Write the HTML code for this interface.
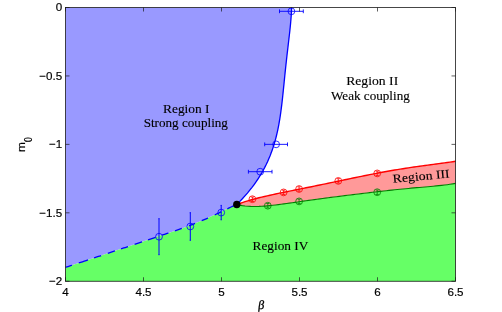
<!DOCTYPE html>
<html><head><meta charset="utf-8"><style>
html,body{margin:0;padding:0;background:#fff;overflow:hidden;}
svg{display:block;position:absolute;left:0;top:0;z-index:5;will-change:transform;}
text{font-family:"Liberation Sans",sans-serif;font-size:11.6px;fill:#000;stroke:#000;stroke-width:0.18px;}
.s{font-family:"Liberation Serif",serif;font-size:12px;fill:#000;stroke:#000;stroke-width:0.12px;}
</style></head><body>
<svg width="502" height="312" viewBox="0 0 502 312">
<rect width="502" height="312" fill="#fff"/>
<polygon points="65.50,7.50 291.59,7.50 291.50,10.36 291.36,13.21 291.18,16.07 290.97,18.92 290.73,21.78 290.47,24.63 290.18,27.49 289.88,30.34 289.57,33.20 289.24,36.05 288.91,38.91 288.58,41.76 288.24,44.62 287.91,47.47 287.57,50.33 287.24,53.18 286.92,56.04 286.59,58.89 286.28,61.75 285.96,64.60 285.66,67.46 285.36,70.31 285.06,73.17 284.77,76.02 284.48,78.88 284.19,81.73 283.91,84.59 283.62,87.44 283.33,90.30 283.04,93.15 282.74,96.01 282.43,98.86 282.11,101.72 281.77,104.57 281.42,107.43 281.05,110.28 280.66,113.14 280.25,115.99 279.81,118.85 279.33,121.70 278.82,124.56 278.28,127.41 277.69,130.27 277.06,133.12 276.38,135.98 275.65,138.83 274.87,141.69 274.03,144.54 273.12,147.40 272.15,150.25 271.11,153.11 270.00,155.96 268.81,158.82 267.55,161.67 266.20,164.53 264.76,167.38 263.23,170.24 261.62,173.09 259.90,175.95 258.08,178.80 256.17,181.66 254.14,184.51 252.01,187.37 249.77,190.22 247.42,193.08 244.94,195.93 242.35,198.79 239.64,201.64 236.80,204.50 236.80,204.50 232.41,206.40 228.02,208.44 223.62,210.60 219.23,212.79 214.84,214.86 210.45,216.87 206.05,218.83 201.66,220.73 197.27,222.56 192.88,224.33 188.48,226.03 184.09,227.66 179.70,229.21 175.31,230.72 170.92,232.20 166.52,233.66 162.13,235.11 157.74,236.57 153.35,238.06 148.95,239.55 144.56,241.03 140.17,242.51 135.78,243.99 131.38,245.46 126.99,246.93 122.60,248.39 118.21,249.86 113.82,251.33 109.42,252.79 105.03,254.26 100.64,255.72 96.25,257.19 91.85,258.65 87.46,260.11 83.07,261.57 78.68,263.03 74.28,264.49 69.89,265.95 65.50,267.40" fill="#9999ff"/>
<polygon points="65.50,267.40 69.89,265.95 74.28,264.49 78.68,263.03 83.07,261.57 87.46,260.11 91.85,258.65 96.25,257.19 100.64,255.72 105.03,254.26 109.42,252.79 113.82,251.33 118.21,249.86 122.60,248.39 126.99,246.93 131.38,245.46 135.78,243.99 140.17,242.51 144.56,241.03 148.95,239.55 153.35,238.06 157.74,236.57 162.13,235.11 166.52,233.66 170.92,232.20 175.31,230.72 179.70,229.21 184.09,227.66 188.48,226.03 192.88,224.33 197.27,222.56 201.66,220.73 206.05,218.83 210.45,216.87 214.84,214.86 219.23,212.79 223.62,210.60 228.02,208.44 232.41,206.40 236.80,204.50 236.80,204.50 239.57,205.14 242.34,205.64 245.11,206.01 247.87,206.27 250.64,206.42 253.41,206.49 256.18,206.48 258.95,206.41 261.72,206.27 264.48,206.08 267.25,205.85 270.02,205.59 272.79,205.29 275.56,204.97 278.33,204.63 281.09,204.27 283.86,203.90 286.63,203.52 289.40,203.13 292.17,202.74 294.94,202.34 297.70,201.95 300.47,201.55 303.24,201.16 306.01,200.77 308.78,200.38 311.55,200.00 314.31,199.62 317.08,199.24 319.85,198.87 322.62,198.50 325.39,198.14 328.16,197.77 330.92,197.42 333.69,197.06 336.46,196.71 339.23,196.36 342.00,196.01 344.77,195.66 347.53,195.32 350.30,194.98 353.07,194.63 355.84,194.29 358.61,193.96 361.38,193.62 364.14,193.29 366.91,192.95 369.68,192.62 372.45,192.30 375.22,191.97 377.99,191.65 380.75,191.33 383.52,191.02 386.29,190.71 389.06,190.40 391.83,190.11 394.60,189.81 397.36,189.52 400.13,189.24 402.90,188.97 405.67,188.70 408.44,188.43 411.21,188.17 413.97,187.92 416.74,187.67 419.51,187.43 422.28,187.18 425.05,186.94 427.82,186.69 430.58,186.44 433.35,186.19 436.12,185.92 438.89,185.64 441.66,185.35 444.43,185.03 447.19,184.68 449.96,184.30 452.73,183.87 455.50,183.40 455.50,281.25 65.50,281.25" fill="#66ff66"/>
<polygon points="236.80,204.50 239.57,203.50 242.34,202.56 245.11,201.67 247.87,200.82 250.64,200.01 253.41,199.24 256.18,198.51 258.95,197.80 261.72,197.12 264.48,196.46 267.25,195.82 270.02,195.20 272.79,194.59 275.56,193.99 278.33,193.41 281.09,192.84 283.86,192.27 286.63,191.70 289.40,191.14 292.17,190.59 294.94,190.03 297.70,189.48 300.47,188.92 303.24,188.37 306.01,187.81 308.78,187.25 311.55,186.69 314.31,186.12 317.08,185.56 319.85,184.99 322.62,184.41 325.39,183.84 328.16,183.26 330.92,182.68 333.69,182.10 336.46,181.52 339.23,180.94 342.00,180.36 344.77,179.77 347.53,179.19 350.30,178.61 353.07,178.03 355.84,177.46 358.61,176.89 361.38,176.32 364.14,175.76 366.91,175.20 369.68,174.65 372.45,174.10 375.22,173.57 377.99,173.04 380.75,172.52 383.52,172.00 386.29,171.50 389.06,171.01 391.83,170.53 394.60,170.05 397.36,169.59 400.13,169.14 402.90,168.69 405.67,168.26 408.44,167.84 411.21,167.42 413.97,167.02 416.74,166.62 419.51,166.24 422.28,165.85 425.05,165.48 427.82,165.11 430.58,164.74 433.35,164.38 436.12,164.01 438.89,163.65 441.66,163.28 444.43,162.90 447.19,162.52 449.96,162.13 452.73,161.72 455.50,161.30 455.50,183.40 452.73,183.87 449.96,184.30 447.19,184.68 444.43,185.03 441.66,185.35 438.89,185.64 436.12,185.92 433.35,186.19 430.58,186.44 427.82,186.69 425.05,186.94 422.28,187.18 419.51,187.43 416.74,187.67 413.97,187.92 411.21,188.17 408.44,188.43 405.67,188.70 402.90,188.97 400.13,189.24 397.36,189.52 394.60,189.81 391.83,190.11 389.06,190.40 386.29,190.71 383.52,191.02 380.75,191.33 377.99,191.65 375.22,191.97 372.45,192.30 369.68,192.62 366.91,192.95 364.14,193.29 361.38,193.62 358.61,193.96 355.84,194.29 353.07,194.63 350.30,194.98 347.53,195.32 344.77,195.66 342.00,196.01 339.23,196.36 336.46,196.71 333.69,197.06 330.92,197.42 328.16,197.77 325.39,198.14 322.62,198.50 319.85,198.87 317.08,199.24 314.31,199.62 311.55,200.00 308.78,200.38 306.01,200.77 303.24,201.16 300.47,201.55 297.70,201.95 294.94,202.34 292.17,202.74 289.40,203.13 286.63,203.52 283.86,203.90 281.09,204.27 278.33,204.63 275.56,204.97 272.79,205.29 270.02,205.59 267.25,205.85 264.48,206.08 261.72,206.27 258.95,206.41 256.18,206.48 253.41,206.49 250.64,206.42 247.87,206.27 245.11,206.01 242.34,205.64 239.57,205.14 236.80,204.50" fill="#ff9999"/>
<polyline points="65.50,267.40 66.80,266.97 68.10,266.54 69.40,266.11 70.70,265.68 72.00,265.25" fill="none" stroke="#0000ff" stroke-width="1.3"/><polyline points="78.80,262.99 80.64,262.38 82.48,261.77 84.32,261.16 86.16,260.55 88.00,259.93" fill="none" stroke="#0000ff" stroke-width="1.3"/><polyline points="94.10,257.90 95.52,257.43 96.94,256.96 98.36,256.48 99.78,256.01 101.20,255.54" fill="none" stroke="#0000ff" stroke-width="1.3"/><polyline points="107.80,253.33 109.22,252.86 110.64,252.39 112.06,251.91 113.48,251.44 114.90,250.96" fill="none" stroke="#0000ff" stroke-width="1.3"/><polyline points="121.05,248.91 122.44,248.45 123.83,247.98 125.22,247.52 126.61,247.05 128.00,246.59" fill="none" stroke="#0000ff" stroke-width="1.3"/><polyline points="134.60,244.38 136.08,243.89 137.56,243.39 139.04,242.89 140.52,242.39 142.00,241.90" fill="none" stroke="#0000ff" stroke-width="1.3"/><polyline points="148.00,239.87 149.54,239.35 151.08,238.83 152.62,238.31 154.16,237.79 155.70,237.26" fill="none" stroke="#0000ff" stroke-width="1.3"/><polyline points="162.10,235.12 163.36,234.70 164.62,234.29 165.88,233.87 167.14,233.45 168.40,233.04" fill="none" stroke="#0000ff" stroke-width="1.3"/><polyline points="175.00,230.83 176.36,230.37 177.72,229.90 179.08,229.43 180.44,228.96 181.80,228.48" fill="none" stroke="#0000ff" stroke-width="1.3"/><polyline points="189.00,225.84 190.22,225.37 191.44,224.90 192.66,224.42 193.88,223.93 195.10,223.44" fill="none" stroke="#0000ff" stroke-width="1.3"/><polyline points="201.70,220.71 202.96,220.17 204.22,219.63 205.48,219.08 206.74,218.53 208.00,217.97" fill="none" stroke="#0000ff" stroke-width="1.3"/><polyline points="214.80,214.88 216.08,214.28 217.36,213.68 218.64,213.07 219.92,212.46 221.20,211.85" fill="none" stroke="#0000ff" stroke-width="1.3"/><polyline points="227.30,208.79 229.20,207.88 231.10,207.00 233.00,206.14 234.90,205.30 236.80,204.50" fill="none" stroke="#0000ff" stroke-width="1.3"/>
<polyline points="291.59,7.50 291.50,10.36 291.36,13.21 291.18,16.07 290.97,18.92 290.73,21.78 290.47,24.63 290.18,27.49 289.88,30.34 289.57,33.20 289.24,36.05 288.91,38.91 288.58,41.76 288.24,44.62 287.91,47.47 287.57,50.33 287.24,53.18 286.92,56.04 286.59,58.89 286.28,61.75 285.96,64.60 285.66,67.46 285.36,70.31 285.06,73.17 284.77,76.02 284.48,78.88 284.19,81.73 283.91,84.59 283.62,87.44 283.33,90.30 283.04,93.15 282.74,96.01 282.43,98.86 282.11,101.72 281.77,104.57 281.42,107.43 281.05,110.28 280.66,113.14 280.25,115.99 279.81,118.85 279.33,121.70 278.82,124.56 278.28,127.41 277.69,130.27 277.06,133.12 276.38,135.98 275.65,138.83 274.87,141.69 274.03,144.54 273.12,147.40 272.15,150.25 271.11,153.11 270.00,155.96 268.81,158.82 267.55,161.67 266.20,164.53 264.76,167.38 263.23,170.24 261.62,173.09 259.90,175.95 258.08,178.80 256.17,181.66 254.14,184.51 252.01,187.37 249.77,190.22 247.42,193.08 244.94,195.93 242.35,198.79 239.64,201.64 236.80,204.50" fill="none" stroke="#0000ff" stroke-width="1.3"/>
<polyline points="236.80,204.50 239.57,205.14 242.34,205.64 245.11,206.01 247.87,206.27 250.64,206.42 253.41,206.49 256.18,206.48 258.95,206.41 261.72,206.27 264.48,206.08 267.25,205.85 270.02,205.59 272.79,205.29 275.56,204.97 278.33,204.63 281.09,204.27 283.86,203.90 286.63,203.52 289.40,203.13 292.17,202.74 294.94,202.34 297.70,201.95 300.47,201.55 303.24,201.16 306.01,200.77 308.78,200.38 311.55,200.00 314.31,199.62 317.08,199.24 319.85,198.87 322.62,198.50 325.39,198.14 328.16,197.77 330.92,197.42 333.69,197.06 336.46,196.71 339.23,196.36 342.00,196.01 344.77,195.66 347.53,195.32 350.30,194.98 353.07,194.63 355.84,194.29 358.61,193.96 361.38,193.62 364.14,193.29 366.91,192.95 369.68,192.62 372.45,192.30 375.22,191.97 377.99,191.65 380.75,191.33 383.52,191.02 386.29,190.71 389.06,190.40 391.83,190.11 394.60,189.81 397.36,189.52 400.13,189.24 402.90,188.97 405.67,188.70 408.44,188.43 411.21,188.17 413.97,187.92 416.74,187.67 419.51,187.43 422.28,187.18 425.05,186.94 427.82,186.69 430.58,186.44 433.35,186.19 436.12,185.92 438.89,185.64 441.66,185.35 444.43,185.03 447.19,184.68 449.96,184.30 452.73,183.87 455.50,183.40" fill="none" stroke="#007f00" stroke-width="1.1"/>
<polyline points="236.80,204.50 239.57,203.50 242.34,202.56 245.11,201.67 247.87,200.82 250.64,200.01 253.41,199.24 256.18,198.51 258.95,197.80 261.72,197.12 264.48,196.46 267.25,195.82 270.02,195.20 272.79,194.59 275.56,193.99 278.33,193.41 281.09,192.84 283.86,192.27 286.63,191.70 289.40,191.14 292.17,190.59 294.94,190.03 297.70,189.48 300.47,188.92 303.24,188.37 306.01,187.81 308.78,187.25 311.55,186.69 314.31,186.12 317.08,185.56 319.85,184.99 322.62,184.41 325.39,183.84 328.16,183.26 330.92,182.68 333.69,182.10 336.46,181.52 339.23,180.94 342.00,180.36 344.77,179.77 347.53,179.19 350.30,178.61 353.07,178.03 355.84,177.46 358.61,176.89 361.38,176.32 364.14,175.76 366.91,175.20 369.68,174.65 372.45,174.10 375.22,173.57 377.99,173.04 380.75,172.52 383.52,172.00 386.29,171.50 389.06,171.01 391.83,170.53 394.60,170.05 397.36,169.59 400.13,169.14 402.90,168.69 405.67,168.26 408.44,167.84 411.21,167.42 413.97,167.02 416.74,166.62 419.51,166.24 422.28,165.85 425.05,165.48 427.82,165.11 430.58,164.74 433.35,164.38 436.12,164.01 438.89,163.65 441.66,163.28 444.43,162.90 447.19,162.52 449.96,162.13 452.73,161.72 455.50,161.30" fill="none" stroke="#ff0000" stroke-width="1.4"/>
<path d="M279.50 11.30H303.30M279.50 9.40V13.20M303.30 9.40V13.20" stroke="#0000ff" stroke-width="0.9" fill="none"/><circle cx="291.40" cy="11.30" r="3.4" fill="none" stroke="#0000ff" stroke-width="0.8"/><path d="M264.70 144.35H287.50M264.70 142.45V146.25M287.50 142.45V146.25" stroke="#0000ff" stroke-width="0.9" fill="none"/><circle cx="276.10" cy="144.35" r="3.4" fill="none" stroke="#0000ff" stroke-width="0.8"/><path d="M248.40 171.70H272.00M248.40 169.80V173.60M272.00 169.80V173.60" stroke="#0000ff" stroke-width="0.9" fill="none"/><circle cx="260.20" cy="171.70" r="3.4" fill="none" stroke="#0000ff" stroke-width="0.8"/><path d="M221.20 205.40V219.80M220.60 205.40H221.80M220.60 219.80H221.80" stroke="#0000ff" stroke-width="1.0" fill="none"/><circle cx="221.20" cy="212.60" r="3.4" fill="none" stroke="#0000ff" stroke-width="0.8"/><path d="M190.30 212.70V240.30M189.70 212.70H190.90M189.70 240.30H190.90" stroke="#0000ff" stroke-width="1.0" fill="none"/><circle cx="190.30" cy="226.50" r="3.4" fill="none" stroke="#0000ff" stroke-width="0.8"/><path d="M159.00 218.70V254.70M158.40 218.70H159.60M158.40 254.70H159.60" stroke="#0000ff" stroke-width="1.0" fill="none"/><circle cx="159.00" cy="236.70" r="3.4" fill="none" stroke="#0000ff" stroke-width="0.8"/><path d="M252.40 197.00V201.40M250.80 197.00H254.00M250.80 201.40H254.00" stroke="#ff0000" stroke-width="0.8" fill="none"/><circle cx="252.40" cy="199.20" r="3.4" fill="none" stroke="#ff0000" stroke-width="0.8"/><path d="M283.60 190.20V194.60M282.00 190.20H285.20M282.00 194.60H285.20" stroke="#ff0000" stroke-width="0.8" fill="none"/><circle cx="283.60" cy="192.40" r="3.4" fill="none" stroke="#ff0000" stroke-width="0.8"/><path d="M299.10 186.80V191.20M297.50 186.80H300.70M297.50 191.20H300.70" stroke="#ff0000" stroke-width="0.8" fill="none"/><circle cx="299.10" cy="189.00" r="3.4" fill="none" stroke="#ff0000" stroke-width="0.8"/><path d="M338.30 178.70V183.10M336.70 178.70H339.90M336.70 183.10H339.90" stroke="#ff0000" stroke-width="0.8" fill="none"/><circle cx="338.30" cy="180.90" r="3.4" fill="none" stroke="#ff0000" stroke-width="0.8"/><path d="M377.20 171.20V175.60M375.60 171.20H378.80M375.60 175.60H378.80" stroke="#ff0000" stroke-width="0.8" fill="none"/><circle cx="377.20" cy="173.40" r="3.4" fill="none" stroke="#ff0000" stroke-width="0.8"/><path d="M267.80 203.50V207.90M266.20 203.50H269.40M266.20 207.90H269.40" stroke="#007f00" stroke-width="0.8" fill="none"/><circle cx="267.80" cy="205.70" r="3.4" fill="none" stroke="#007f00" stroke-width="0.8"/><path d="M299.10 199.20V203.60M297.50 199.20H300.70M297.50 203.60H300.70" stroke="#007f00" stroke-width="0.8" fill="none"/><circle cx="299.10" cy="201.40" r="3.4" fill="none" stroke="#007f00" stroke-width="0.8"/><path d="M377.20 190.00V194.40M375.60 190.00H378.80M375.60 194.40H378.80" stroke="#007f00" stroke-width="0.8" fill="none"/><circle cx="377.20" cy="192.20" r="3.4" fill="none" stroke="#007f00" stroke-width="0.8"/>
<circle cx="236.8" cy="204.5" r="3.7" fill="#000"/>
<rect x="65.5" y="7.5" width="390.0" height="273.75" fill="none" stroke="#1a1a1a" stroke-width="0.8"/>
<path d="M65.5 281.25v-4M65.5 7.5v4M143.5 281.25v-4M143.5 7.5v4M221.5 281.25v-4M221.5 7.5v4M299.5 281.25v-4M299.5 7.5v4M377.5 281.25v-4M377.5 7.5v4M455.5 281.25v-4M455.5 7.5v4M65.5 7.5h4M455.5 7.5h-4M65.5 75.9375h4M455.5 75.9375h-4M65.5 144.375h4M455.5 144.375h-4M65.5 212.8125h4M455.5 212.8125h-4M65.5 281.25h4M455.5 281.25h-4" stroke="#1a1a1a" stroke-width="0.7" fill="none"/>
<text x="65.5" y="295.6" text-anchor="middle">4</text><text x="143.5" y="295.6" text-anchor="middle">4.5</text><text x="221.5" y="295.6" text-anchor="middle">5</text><text x="299.5" y="295.6" text-anchor="middle">5.5</text><text x="377.5" y="295.6" text-anchor="middle">6</text><text x="455.5" y="295.6" text-anchor="middle">6.5</text><text x="62.2" y="11.4" text-anchor="end">0</text><text x="62.2" y="79.9" text-anchor="end">−0.5</text><text x="62.2" y="148.4" text-anchor="end">−1</text><text x="62.2" y="216.9" text-anchor="end">−1.5</text><text x="62.2" y="285.4" text-anchor="end">−2</text>
<text class="s" x="186.3" y="113" text-anchor="middle" textLength="46.6" lengthAdjust="spacingAndGlyphs">Region I</text>
<text class="s" x="185.8" y="127" text-anchor="middle" textLength="84.3" lengthAdjust="spacingAndGlyphs">Strong coupling</text>
<text class="s" x="372.2" y="85.2" text-anchor="middle" textLength="52" lengthAdjust="spacingAndGlyphs">Region II</text>
<text class="s" x="370.4" y="99.6" text-anchor="middle" textLength="78.8" lengthAdjust="spacingAndGlyphs">Weak coupling</text>
<text class="s" x="280.5" y="250.2" text-anchor="middle" textLength="55.8" lengthAdjust="spacingAndGlyphs">Region IV</text>
<text class="s" transform="translate(421.5,180.1) rotate(-5.3)" x="0" y="0" text-anchor="middle" textLength="57" lengthAdjust="spacingAndGlyphs">Region III</text>
<text class="s" transform="translate(260.9,308.5) skewX(-7)" x="0" y="0" text-anchor="middle" style="font-size:12.5px;stroke-width:0.3px">β</text>
<g transform="translate(25.5,152.0) rotate(-90)"><text x="0" y="-0.3" style="font-size:11.8px">m</text><text transform="translate(10.0,6.5) scale(0.8,1)" x="0" y="0" style="font-size:10.8px">0</text></g>
</svg>
</body></html>
